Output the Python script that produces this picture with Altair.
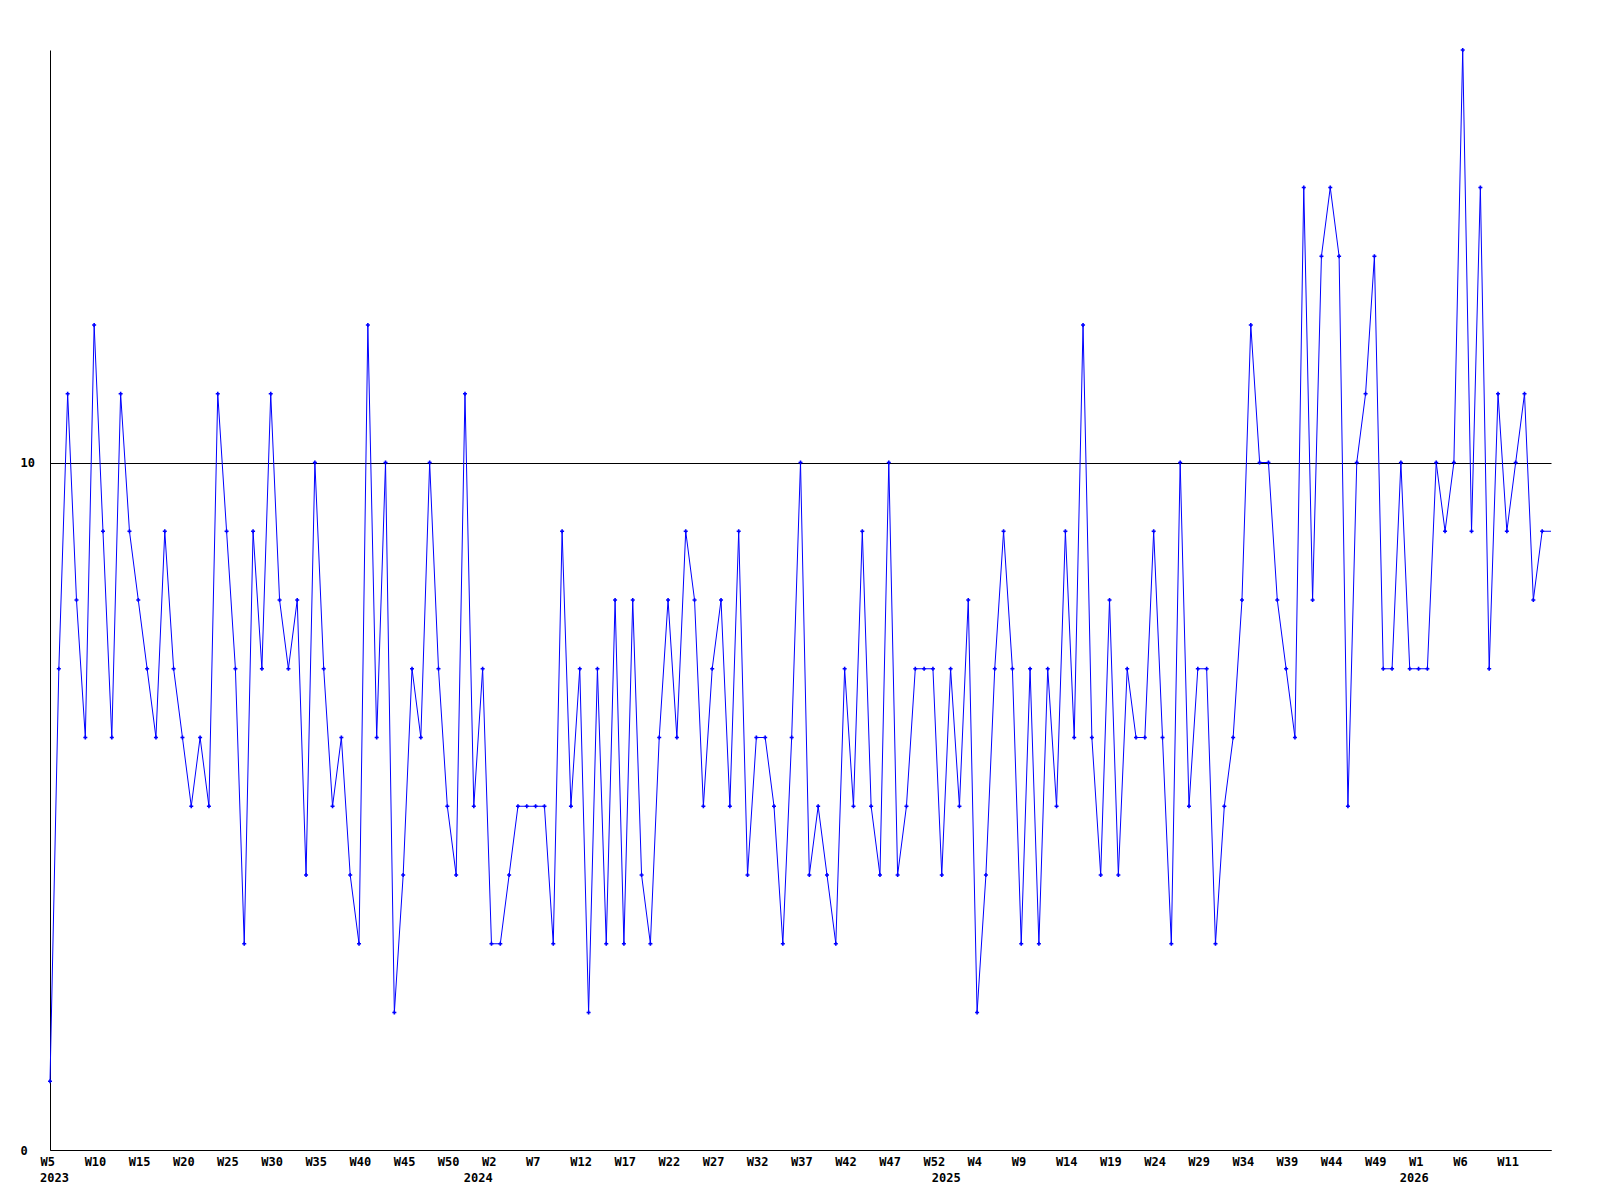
import altair as alt
import pandas as pd

# weekly values, starting 2023 W5 (last entry is the current, still-open week)
values = [
    1, 7, 11, 8, 6, 12, 9, 6, 11, 9,
    8, 7, 6, 9, 7, 6, 5, 6, 5, 11,
    9, 7, 3, 9, 7, 11, 8, 7, 8, 4,
    10, 7, 5, 6, 4, 3, 12, 6, 10, 2,
    4, 7, 6, 10, 7, 5, 4, 11, 5, 7,
    3, 3, 4, 5, 5, 5, 5, 3, 9, 5,
    7, 2, 7, 3, 8, 3, 8, 4, 3, 6,
    8, 6, 9, 8, 5, 7, 8, 5, 9, 4,
    6, 6, 5, 3, 6, 10, 4, 5, 4, 3,
    7, 5, 9, 5, 4, 10, 4, 5, 7, 7,
    7, 4, 7, 5, 8, 2, 4, 7, 9, 7,
    3, 7, 3, 7, 5, 9, 6, 12, 6, 4,
    8, 4, 7, 6, 6, 9, 6, 3, 10, 5,
    7, 7, 3, 5, 6, 8, 12, 10, 10, 8,
    7, 6, 14, 8, 13, 14, 13, 5, 10, 11,
    13, 7, 7, 10, 7, 7, 7, 10, 9, 10,
    16, 9, 14, 7, 11, 9, 10, 11, 8, 9,
    9,
]

x_tick_labels = (
    ["W5", "W10", "W15", "W20", "W25", "W30", "W35", "W40", "W45", "W50"]
    + ["W2", "W7", "W12", "W17", "W22", "W27", "W32", "W37", "W42", "W47", "W52"]
    + ["W4", "W9", "W14", "W19", "W24", "W29", "W34", "W39", "W44", "W49"]
    + ["W1", "W6", "W11"]
)
year_labels = ["2023", "2024", "2025", "2026"]
year_week_index = [0, 48, 101, 154]
y_tick_values = [0, 10]

n = len(values)
df = pd.DataFrame({"i": list(range(n)), "v": values})
df_pts = df[df["i"] < n - 1]
years_df = pd.DataFrame({"i": year_week_index, "label": year_labels})

tick_idx = [5 * k for k in range(len(x_tick_labels))]
label_js = "[" + ",".join("'%s'" % s for s in x_tick_labels) + "]"
label_expr = label_js + "[round(datum.value / 5)]"

FONT = "DejaVu Sans Mono"
FSIZE = 12
BLUE = "#0000FF"

x_scale = alt.Scale(domain=[0, n - 1], nice=False, zero=False, padding=0)
y_scale = alt.Scale(domain=[0, 16], nice=False, zero=True)

x_axis = alt.Axis(
    values=tick_idx,
    labelExpr=label_expr,
    title=None,
    grid=False,
    ticks=False,
    tickSize=0,
    domainColor="black",
    domainWidth=1,
    labelFont=FONT,
    labelFontWeight="bold",
    labelFontSize=FSIZE,
    labelColor="black",
    labelAlign="left",
    labelBaseline="alphabetic",
    labelOffset=-10,
    labelPadding=15,
    labelOverlap=False,
    labelFlush=False,
)
y_axis = alt.Axis(
    values=y_tick_values,
    format="d",
    title=None,
    grid=True,
    gridColor="black",
    gridWidth=1,
    gridOpacity=1,
    ticks=False,
    tickSize=0,
    domainColor="black",
    domainWidth=1,
    labelFont=FONT,
    labelFontWeight="bold",
    labelFontSize=FSIZE,
    labelColor="black",
    labelAlign="left",
    labelBaseline="middle",
    labelPadding=30,
    labelFlush=False,
)

line = alt.Chart(df).mark_line(color=BLUE, strokeWidth=1).encode(
    x=alt.X("i:Q", scale=x_scale, axis=x_axis),
    y=alt.Y("v:Q", scale=y_scale, axis=y_axis),
)
pts = alt.Chart(df_pts).mark_point(
    shape="cross", filled=True, color=BLUE, size=16, opacity=1
).encode(
    x=alt.X("i:Q", scale=x_scale),
    y=alt.Y("v:Q", scale=y_scale),
)
years = alt.Chart(years_df).mark_text(
    font=FONT, fontWeight="bold", fontSize=FSIZE, color="black",
    align="left", baseline="alphabetic", dx=-10,
).encode(
    x=alt.X("i:Q", scale=x_scale),
    y=alt.value(1132),
    text="label:N",
)

chart = (
    alt.layer(line, pts, years)
    .properties(
        width=1501,
        height=1100,
        autosize=alt.AutoSizeParams(type="none"),
        padding={"left": 42, "top": 42, "right": 41, "bottom": 48},
        background="white",
    )
    .configure_view(stroke="transparent")
)

chart.save("out.html", embed_options={"renderer": "svg", "actions": False})
